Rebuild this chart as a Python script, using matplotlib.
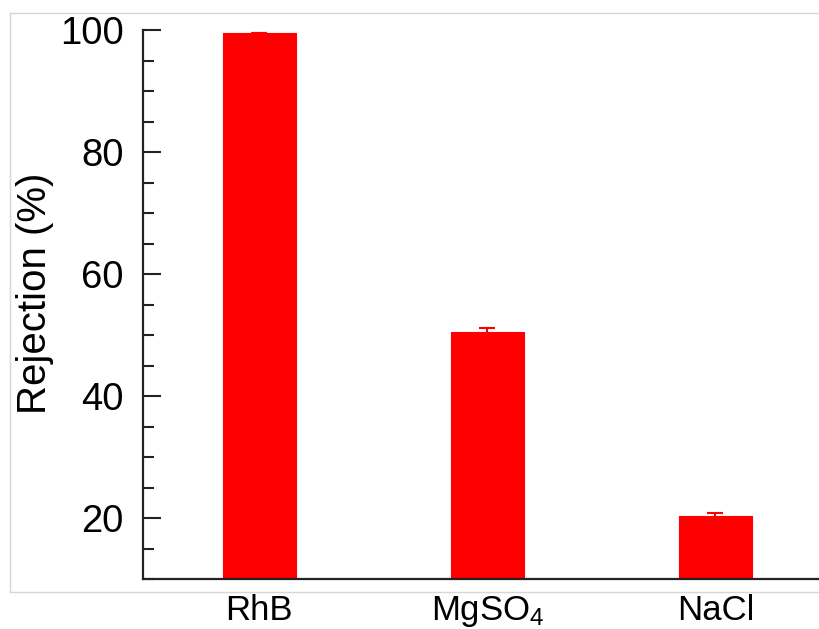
import matplotlib
matplotlib.use("Agg")
import matplotlib.pyplot as plt
from matplotlib.ticker import MultipleLocator
from matplotlib.lines import Line2D

plt.rcParams['font.family'] = ['Liberation Sans', 'DejaVu Sans']
plt.rcParams['mathtext.fontset'] = 'custom'
plt.rcParams['mathtext.rm'] = 'Liberation Sans'
plt.rcParams['mathtext.it'] = 'Liberation Sans'

# data
categories = ['RhB', 'MgSO$_{\\rm 4}$', 'NaCl']
rejection = [99.5, 50.5, 20.4]
rejection_err = [0.0, 0.7, 0.4]

W, H = 819, 629
fig = plt.figure(figsize=(W / 100, H / 100), dpi=100)
fig.patch.set_facecolor('white')

# axes placement in pixels: spine at x=143, bottom at y=579, top (100) at y=30
ax = fig.add_axes([143 / W, (H - 579) / H, (W - 143) / W, (579 - 30) / H])

x = list(range(len(categories)))
ax.bar(x, rejection, width=0.32, color='#ff0000', edgecolor='#ff0000', linewidth=0.8)
ax.errorbar(x, rejection, yerr=rejection_err, fmt='none', ecolor='#ff0000',
            elinewidth=1.5, capsize=5.5, capthick=1.5)

ax.set_xlim(-0.51, 2.454)
ax.set_ylim(10, 100)
ax.set_xticks(x)
ax.set_xticklabels(categories, fontsize=25)
ax.yaxis.set_major_locator(MultipleLocator(20))
ax.yaxis.set_minor_locator(MultipleLocator(5))
ax.set_yticks([20, 40, 60, 80, 100])
ax.tick_params(axis='y', which='major', direction='in', length=13, width=1.5,
               color='#222222', labelsize=27.5, pad=14)
ax.tick_params(axis='y', which='minor', direction='in', length=8, width=1.5,
               color='#222222')
ax.tick_params(axis='x', length=0, pad=11)

for s in ['top', 'right']:
    ax.spines[s].set_visible(False)
for s in ['left', 'bottom']:
    ax.spines[s].set_linewidth(1.6)
    ax.spines[s].set_color('#222222')

fig.text(35 / W, 1 - 293 / H, 'Rejection (%)', rotation=90, fontsize=29,
         ha='center', va='center')

# light gray frame around the panel
gray = '#d6d6d6'
fig.add_artist(Line2D([10 / W, 1], [1 - 13 / H, 1 - 13 / H], color=gray, lw=1,
                      transform=fig.transFigure))
fig.add_artist(Line2D([10 / W, 1], [1 - 592 / H, 1 - 592 / H], color=gray, lw=1,
                      transform=fig.transFigure))
fig.add_artist(Line2D([10 / W, 10 / W], [1 - 13 / H, 1 - 592 / H], color=gray, lw=1,
                      transform=fig.transFigure))

fig.savefig('out.png', dpi=100)
